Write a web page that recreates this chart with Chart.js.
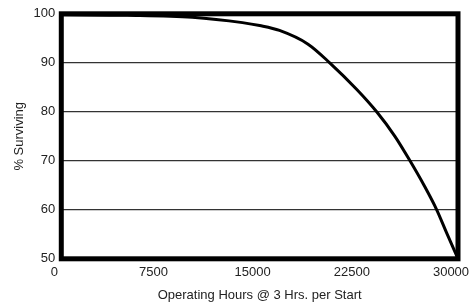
<!DOCTYPE html>
<html>
<head>
<meta charset="utf-8">
<script src="https://cdn.jsdelivr.net/npm/chart.js@4"></script>
<style>
    body { margin: 0; background: #fff; }
    #wrap { width: 475px; height: 307px; }
</style>
</head>
<body>
<div id="wrap"><canvas id="survival" width="475" height="307"></canvas></div>
<script>
// values
const hours = [0, 5000, 9900, 13700, 15000, 16500, 18660, 20300, 22330, 23850, 25230, 26370, 27430, 28390, 29140, 30000];
const surviving = [99.8, 99.7, 99.3, 98.2, 97.6, 96.6, 93.8, 90.0, 84.6, 80.0, 75.0, 70.0, 65.0, 60.0, 55.3, 50.0];
const xTicks = [0, 7500, 15000, 22500, 30000];
const yTicks = [50, 60, 70, 80, 90, 100];

const points = hours.map((h, i) => ({ x: h, y: surviving[i] }));

// thick black frame round the plot area
const framePlugin = {
    id: 'frame',
    afterDraw(chart) {
        const a = chart.chartArea;
        const ctx = chart.ctx;
        ctx.save();
        ctx.strokeStyle = '#000';
        ctx.lineWidth = 5;
        ctx.strokeRect(a.left, a.top, a.right - a.left, a.bottom - a.top);
        ctx.restore();
    }
};

const ctx = document.getElementById('survival').getContext('2d');

let survivalChart = new Chart(ctx, {
    type: 'line',
    data: {
        datasets: [{
            data: points,
            borderColor: '#000',
            borderWidth: 3,
            pointRadius: 0,
            fill: false,
            cubicInterpolationMode: 'monotone'
        }]
    },
    options: {
        responsive: false,
        animation: false,
        layout: {
            padding: { top: 7, right: 17, left: 12, bottom: 4 }
        },
        plugins: {
            legend: { display: false },
            tooltip: { enabled: false }
        },
        scales: {
            x: {
                type: 'linear',
                min: 0,
                max: 30000,
                afterBuildTicks: axis => { axis.ticks = xTicks.map(v => ({ value: v })); },
                // labels sit a little left of their ticks, so no extra room is needed on the right
                afterFit: axis => { axis.paddingRight = 0; },
                grid: { display: false, drawTicks: false },
                border: { display: false },
                ticks: {
                    color: '#222',
                    font: { family: 'Liberation Sans', size: 13 },
                    maxRotation: 0,
                    padding: 6,
                    labelOffset: -7,
                    callback: v => String(v)
                },
                title: {
                    display: true,
                    text: 'Operating Hours @ 3 Hrs. per Start',
                    color: '#222',
                    font: { family: 'Liberation Sans', size: 13 },
                    padding: { top: 1, bottom: 0 }
                }
            },
            y: {
                min: 50,
                max: 100,
                afterBuildTicks: axis => { axis.ticks = yTicks.map(v => ({ value: v })); },
                grid: { color: '#333', lineWidth: 1.3, drawTicks: false },
                border: { display: false },
                ticks: {
                    color: '#222',
                    font: { family: 'Liberation Sans', size: 13 },
                    padding: 6,
                    callback: v => String(v)
                },
                title: {
                    display: true,
                    text: '% Surviving',
                    color: '#222',
                    font: { family: 'Liberation Sans', size: 13 },
                    padding: { top: 0, bottom: 0 }
                }
            }
        }
    },
    plugins: [framePlugin]
});
</script>
</body>
</html>
